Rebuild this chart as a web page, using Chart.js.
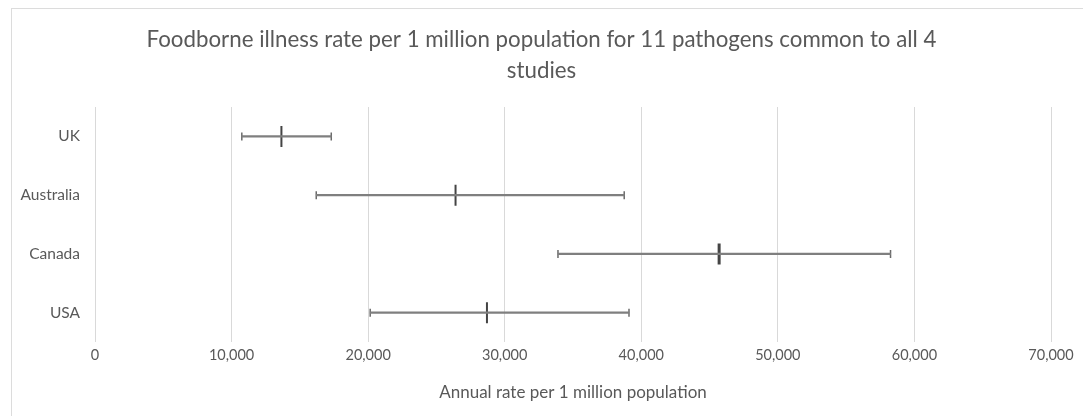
<!DOCTYPE html>
<html>
<head>
<meta charset="utf-8">
<script src="https://cdn.jsdelivr.net/npm/chart.js@4"></script>
<style>
  html, body { margin: 0; padding: 0; background: #fff; }
  #wrap { position: relative; width: 1083px; height: 416px; overflow: hidden; }
  #frame { position: absolute; left: 11px; top: 8px; right: -2px; bottom: -2px;
           border-top: 1px solid #dcdcdc; border-left: 1px solid #dcdcdc; }
  #c { position: absolute; left: 0; top: 0; }
</style>
</head>
<body>
<div id="wrap">
  <div id="frame"></div>
  <canvas id="c" width="1083" height="416"></canvas>
</div>
<script>
// Annual foodborne illness rate per 1 million population, by study country
const countries = ['UK', 'Australia', 'Canada', 'USA'];
const lowRates  = [10750, 16200, 33900, 20150];
const midRates  = [13650, 26400, 45700, 28700];
const highRates = [17300, 38750, 58250, 39100];
const xTickValues = [0, 10000, 20000, 30000, 40000, 50000, 60000, 70000];
const titleLines = ['Foodborne illness rate per 1 million population for 11 pathogens common to all 4', 'studies'];

const TEXT = '#595959';
const FONT = 'Lato, "Open Sans", sans-serif';

const points = vals => countries.map((c, i) => ({ x: vals[i], y: c }));

// Chart title centred across the whole canvas, above the plot
const centredTitle = {
  id: 'centredTitle',
  afterDraw(chart) {
    const ctx = chart.ctx;
    ctx.save();
    ctx.fillStyle = TEXT;
    ctx.font = '22.3px ' + FONT;
    ctx.textAlign = 'center';
    ctx.textBaseline = 'middle';
    titleLines.forEach((line, i) => ctx.fillText(line, chart.width / 2, 40 + i * 31));
    ctx.restore();
  }
};

new Chart(document.getElementById('c'), {
  type: 'bar',
  data: {
    labels: countries,
    datasets: [
      {
        // whisker span from low to high estimate
        data: countries.map((c, i) => [lowRates[i], highRates[i]]),
        backgroundColor: '#7f7f7f',
        barThickness: 1.6,
        borderWidth: 0
      },
      {
        type: 'scatter',
        data: points(lowRates),
        pointStyle: 'line', rotation: 90, radius: 4,
        borderColor: '#6a6a6a', borderWidth: 1.5
      },
      {
        type: 'scatter',
        data: points(highRates),
        pointStyle: 'line', rotation: 90, radius: 4,
        borderColor: '#6a6a6a', borderWidth: 1.5
      },
      {
        type: 'scatter',
        data: points(midRates),
        pointStyle: 'line', rotation: 90, radius: 10.5,
        borderColor: '#444444', borderWidth: [2, 2, 3, 2]
      }
    ]
  },
  plugins: [centredTitle],
  options: {
    indexAxis: 'y',
    responsive: false,
    animation: false,
    devicePixelRatio: 1,
    layout: { padding: { left: 0, right: 32, top: 107, bottom: 13 } },
    plugins: {
      legend: { display: false },
      tooltip: { enabled: false },
      title: { display: false }
    },
    scales: {
      x: {
        type: 'linear',
        min: 0,
        max: 70000,
        afterBuildTicks: s => { s.ticks = xTickValues.map(v => ({ value: v })); },
        afterFit: s => { s.height = 61; },
        ticks: {
          color: TEXT,
          font: { family: FONT, size: 14.5 },
          padding: 5,
          maxRotation: 0,
          callback: v => v.toLocaleString('en-US')
        },
        grid: { color: '#d9d9d9', lineWidth: 1, drawTicks: false },
        border: { display: false },
        title: {
          display: true,
          text: 'Annual rate per 1 million population',
          color: TEXT,
          font: { family: FONT, size: 17 },
          padding: { top: 6, bottom: 0 }
        }
      },
      y: {
        type: 'category',
        labels: countries,
        offset: true,
        afterFit: s => { s.width = 95; },
        ticks: {
          color: TEXT,
          font: { family: FONT, size: 15.5 },
          padding: 7
        },
        grid: { display: false },
        border: { display: false }
      }
    }
  }
});
</script>
</body>
</html>
